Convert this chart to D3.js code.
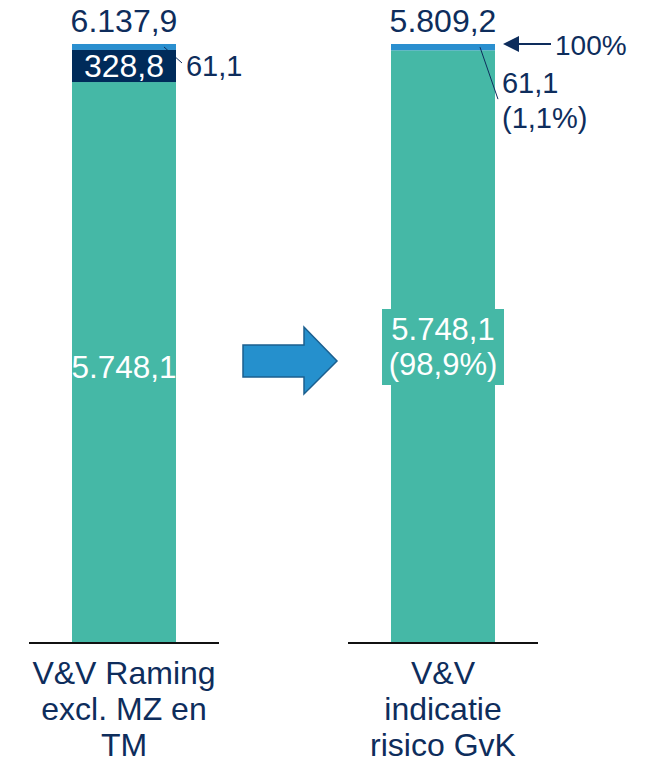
<!DOCTYPE html>
<html>
<head>
<meta charset="utf-8">
<script src="https://cdn.jsdelivr.net/npm/d3@7"></script>
<style>
  body { margin: 0; background: #fff; }
  text { font-family: "Liberation Sans", Arial, sans-serif; }
</style>
</head>
<body>
<div id="chart"></div>
<script>
const categories = ['V&V Raming excl. MZ en TM', 'V&V indicatie risico GvK'];
const categoryLines = [['V&V Raming', 'excl. MZ en', 'TM'], ['V&V', 'indicatie', 'risico GvK']];
const baseValues = [5748.1, 5748.1];
const mzValues = [328.8, 0];
const riskValues = [61.1, 61.1];
const totals = [6137.9, 5809.2];

const width = 651;
const height = 765;
const navy = '#0e2d5c';
const colors = { base: '#45b8a6', mz: '#002b5a', risk: '#2a8fcf' };

const nl = d3.formatLocale({ decimal: ',', thousands: '.', grouping: [3], currency: ['€', ''] });
const fmt = nl.format(',.1f');
const pct = (v) => '(' + nl.format('.1f')(v * 100) + '%)';

const svg = d3.select('#chart')
  .append('svg')
  .attr('width', width)
  .attr('height', height);

const x = d3.scaleBand()
  .domain(categories)
  .range([-35.5, 602.5])
  .paddingInner(0.674)
  .paddingOuter(0.337);

// every bar is shown as share of its own total
const y = d3.scaleLinear().domain([0, 1]).range([643, 44]);

const rows = categories.map((c, i) => {
  const t = totals[i];
  const b = baseValues[i] / t;
  const m = mzValues[i] / t;
  const r = riskValues[i] / t;
  return { c, i, segs: [
    { key: 'base', y0: 0, y1: b },
    { key: 'mz', y0: b, y1: b + m },
    { key: 'risk', y0: b + m, y1: b + m + r }
  ] };
});

const segs = rows.flatMap((d) => d.segs.map((s) => ({ ...s, c: d.c, i: d.i })))
  .filter((s) => s.y1 > s.y0);

const drawSeg = (sel) => sel
  .attr('x', (d) => x(d.c))
  .attr('width', x.bandwidth())
  .attr('y', (d) => y(d.y1))
  .attr('height', (d) => y(d.y0) - y(d.y1))
  .attr('fill', (d) => colors[d.key]);

svg.append('g').selectAll('rect')
  .data(segs.filter((s) => s.key !== 'mz'))
  .join('rect')
  .call(drawSeg);

// leader lines for the small risk segment
const cx = (i) => x(categories[i]) + x.bandwidth() / 2;
const riskMid = (i) => y(rows[i].segs[2].y0 + (rows[i].segs[2].y1 - rows[i].segs[2].y0) / 2);
svg.append('line')
  .attr('x1', x(categories[0]) + x.bandwidth() - 12).attr('y1', riskMid(0))
  .attr('x2', x(categories[0]) + x.bandwidth() + 6).attr('y2', riskMid(0) + 16)
  .attr('stroke', navy).attr('stroke-width', 1);

svg.append('g').selectAll('rect')
  .data(segs.filter((s) => s.key === 'mz'))
  .join('rect')
  .call(drawSeg);

svg.append('line')
  .attr('x1', x(categories[1]) + x.bandwidth() - 15).attr('y1', riskMid(1))
  .attr('x2', x(categories[1]) + x.bandwidth() + 3).attr('y2', riskMid(1) + 52)
  .attr('stroke', navy).attr('stroke-width', 1);

// axis lines per category
categories.forEach((c, i) => {
  svg.append('line')
    .attr('x1', cx(i) - 95).attr('x2', cx(i) + 95)
    .attr('y1', y(0)).attr('y2', y(0))
    .attr('stroke', '#111').attr('stroke-width', 2);
});

const fs = 32;
const fsSmall = 29;

// totals above bars
svg.append('g').selectAll('text')
  .data(categories)
  .join('text')
  .attr('x', (d, i) => cx(i))
  .attr('y', 32)
  .attr('text-anchor', 'middle')
  .attr('font-size', fs)
  .attr('fill', navy)
  .text((d, i) => fmt(totals[i]));

// MZ label
svg.append('text')
  .attr('x', cx(0)).attr('y', y((rows[0].segs[1].y0 + rows[0].segs[1].y1) / 2) + 11)
  .attr('text-anchor', 'middle').attr('font-size', fs).attr('fill', '#fff')
  .text(fmt(mzValues[0]));

// risk labels
svg.append('text')
  .attr('x', x(categories[0]) + x.bandwidth() + 10).attr('y', 76)
  .attr('font-size', fsSmall).attr('fill', navy)
  .text(fmt(riskValues[0]));

const rt = svg.append('text')
  .attr('x', x(categories[1]) + x.bandwidth() + 7).attr('y', 93)
  .attr('font-size', fsSmall).attr('fill', navy);
rt.append('tspan').text(fmt(riskValues[1]));
rt.append('tspan').attr('x', x(categories[1]) + x.bandwidth() + 7).attr('dy', 35)
  .text(pct(riskValues[1] / totals[1]));

// base labels
svg.append('text')
  .attr('x', cx(0)).attr('y', 378)
  .attr('text-anchor', 'middle').attr('font-size', 31.5).attr('fill', '#fff')
  .text(fmt(baseValues[0]));

svg.append('rect')
  .attr('x', cx(1) - 61).attr('y', 309)
  .attr('width', 122).attr('height', 76)
  .attr('fill', colors.base);
const bt = svg.append('text')
  .attr('x', cx(1)).attr('y', 340)
  .attr('text-anchor', 'middle').attr('font-size', 31).attr('fill', '#fff');
bt.append('tspan').text(fmt(baseValues[1]));
bt.append('tspan').attr('x', cx(1)).attr('dy', 35).text(pct(baseValues[1] / totals[1]));

// 100% marker
const ax = x(categories[1]) + x.bandwidth() + 8;
svg.append('line')
  .attr('x1', ax + 10).attr('x2', ax + 48)
  .attr('y1', y(1)).attr('y2', y(1))
  .attr('stroke', navy).attr('stroke-width', 2);
svg.append('path')
  .attr('d', `M${ax},${y(1)} L${ax + 16},${y(1) - 8} L${ax + 16},${y(1) + 8} Z`)
  .attr('fill', navy);
svg.append('text')
  .attr('x', ax + 52).attr('y', 55)
  .attr('font-size', 28).attr('fill', navy)
  .text('100%');

// block arrow between the bars
svg.append('path')
  .attr('d', 'M243,345 L304,345 L304,327 L337,361 L304,394 L304,377 L243,377 Z')
  .attr('fill', '#2590cd')
  .attr('stroke', '#1b5f8f')
  .attr('stroke-width', 1.5);

// category labels
categoryLines.forEach((lines, i) => {
  const t = svg.append('text')
    .attr('x', cx(i)).attr('y', 684)
    .attr('text-anchor', 'middle').attr('font-size', fs).attr('fill', navy);
  lines.forEach((l, j) => {
    t.append('tspan').attr('x', cx(i)).attr('dy', j === 0 ? 0 : 36).text(l);
  });
});
</script>
</body>
</html>
